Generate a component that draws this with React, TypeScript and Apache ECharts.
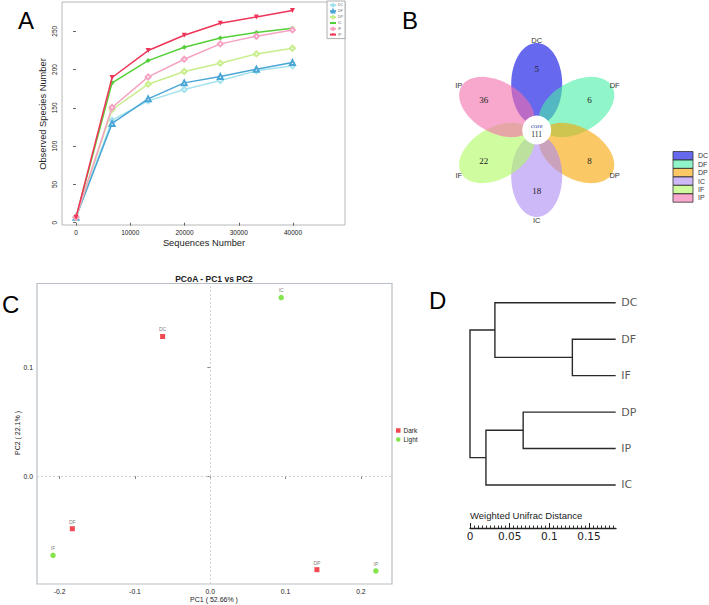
import React, { useEffect, useRef } from 'react';
import * as echarts from 'echarts';

// ---------- Panel A: rarefaction curves ----------
const SEQ_DEPTH = [0, 6650, 13300, 19950, 26600, 33250, 39900];
const RARE_NAMES = ['DC', 'DF', 'DP', 'IC', 'IF', 'IP'];
const RARE_DC = [7, 133.9, 159.1, 173.9, 185.7, 198.3, 204.8];
const RARE_DF = [7, 129.6, 161.7, 182.6, 190.9, 200.4, 209.1];
const RARE_DP = [7, 147.8, 180.9, 197.4, 208.3, 220.4, 227.8];
const RARE_IC = [7, 182.6, 211.7, 229.1, 241.3, 248.3, 253.9];
const RARE_IF = [7, 150.4, 190.4, 213.5, 233.5, 243.5, 251.7];
const RARE_IP = [7, 189.6, 224.8, 244.8, 260.4, 268.7, 277];
const RARE_X_TICKS = [0, 10000, 20000, 30000, 40000];
const RARE_Y_TICKS = [0, 50, 100, 150, 200, 250];

// ---------- Panel B: flower Venn ----------
const VENN_SETS = ['DC', 'DF', 'DP', 'IC', 'IF', 'IP'];
const VENN_UNIQUE = [5, 6, 8, 18, 22, 36];
const VENN_CORE = 111;

// ---------- Panel C: PCoA ----------
const PCOA_NAMES = ['DC', 'DF', 'DP', 'IC', 'IF', 'IP'];
const PCOA_PC1 = [-0.0633, -0.1832, 0.1416, 0.0942, -0.2088, 0.2199];
const PCOA_PC2 = [0.1285, -0.0485, -0.0862, 0.1644, -0.073, -0.0874];
const PCOA_GROUP = ['Dark', 'Dark', 'Dark', 'Light', 'Light', 'Light'];
const PCOA_GROUPS = ['Dark', 'Light'];
const PCOA_X_TICKS = [-0.2, -0.1, 0, 0.1, 0.2];
const PCOA_Y_TICKS = [0, 0.1];

// ---------- Panel D: UPGMA tree ----------
const TREE_LEAVES = ['DC', 'DF', 'IF', 'DP', 'IP', 'IC'];
const TREE_DEPTH = 0.1836;
const TREE_MERGES: [string, string, number][] = [
  ['DF', 'IF', 0.129],
  ['DC', 'm0', 0.0314],
  ['DP', 'IP', 0.067],
  ['m2', 'IC', 0.0201],
  ['m1', 'm3', 0],
];
const TREE_MAJOR_TICKS = [0, 0.05, 0.1, 0.15];
const TREE_MINOR_TICKS = [
  0, 0.005, 0.01, 0.015, 0.02, 0.025, 0.03, 0.035, 0.04, 0.045, 0.05, 0.055, 0.06, 0.065, 0.07, 0.075,
  0.08, 0.085, 0.09, 0.095, 0.1, 0.105, 0.11, 0.115, 0.12, 0.125, 0.13, 0.135, 0.14, 0.145, 0.15,
  0.155, 0.16, 0.165, 0.17, 0.175, 0.18,
];

// ---------- styles ----------
const RARE_COLORS = ['#a4e2ee', '#4aa6d6', '#c8ee8c', '#55cf38', '#f6a2c3', '#ee3457'];
const RARE_SYMBOLS = ['emptyDiamond', 'emptyTriangle', 'emptyDiamond', 'diamond', 'emptyDiamond', 'triangle'];
const VENN_COLORS: [number, number, number][] = [
  [0, 3, 227],
  [70, 238, 163],
  [248, 163, 0],
  [172, 137, 243],
  [177, 250, 97],
  [243, 110, 170],
];
const PETAL_ANGLES = [90, 30, -30, -90, 210, 150];
const GROUP_COLORS = ['#ee1c25', '#66dd22'];
const GROUP_SYMBOLS = ['rect', 'circle'];

const SANS = 'Liberation Sans';

function txt(x: number, y: number, text: string, o: any = {}) {
  return {
    type: 'text',
    x,
    y,
    rotation: o.rot || 0,
    z: o.z || 50,
    silent: true,
    style: {
      text,
      fill: o.fill || '#222',
      fontSize: o.size || 10,
      fontFamily: o.family || SANS,
      fontWeight: o.weight || 'normal',
      textAlign: o.align || 'center',
      textVerticalAlign: o.valign || 'middle',
      align: o.align || 'center',
      verticalAlign: o.valign || 'middle',
    },
  };
}

function rgba(c: [number, number, number], a: number) {
  return `rgba(${c[0]},${c[1]},${c[2]},${a})`;
}

function buildOption() {
  const graphics: any[] = [];

  // panel letters
  graphics.push(txt(18, 20.5, 'A', { size: 24, align: 'left', fill: '#000' }));
  graphics.push(txt(402, 20.5, 'B', { size: 24, align: 'left', fill: '#000' }));
  graphics.push(txt(2, 304, 'C', { size: 24, align: 'left', fill: '#000' }));
  graphics.push(txt(429, 300, 'D', { size: 24, align: 'left', fill: '#000' }));

  // Panel A axis names
  graphics.push(txt(43, 114, 'Observed Species Number', { size: 9.3, rot: Math.PI / 2 }));
  graphics.push(txt(204, 243, 'Sequences Number', { size: 9.3 }));

  // Panel B flower
  const BX = 536.7;
  const BY = 130;
  const PD = 46;
  const PA = 41;
  const PB = 25.5;
  VENN_SETS.forEach((name, i) => {
    const th = (PETAL_ANGLES[i] * Math.PI) / 180;
    const ux = Math.cos(th);
    const uy = -Math.sin(th);
    const vx = -uy;
    const vy = ux;
    const ex = BX + PD * ux;
    const ey = BY + PD * uy;
    const pts: number[][] = [];
    for (let k = 0; k < 90; k++) {
      const t = (k / 90) * Math.PI * 2;
      const lx = PA * Math.cos(t);
      const ly = PB * Math.sin(t);
      pts.push([ex + lx * ux + ly * vx, ey + lx * uy + ly * vy]);
    }
    graphics.push({
      type: 'polygon',
      z: 10 + i,
      silent: true,
      shape: { points: pts },
      style: { fill: rgba(VENN_COLORS[i], 0.6), stroke: 'none' },
    });
    graphics.push(
      txt(BX + 61 * ux, BY + 61 * uy, String(VENN_UNIQUE[i]), {
        size: 9,
        family: 'Liberation Serif',
        fill: '#222',
        z: 40,
      })
    );
    graphics.push(txt(BX + 90 * ux, BY + 90 * uy, name, { size: 7.5, fill: '#333', z: 40 }));
    // legend
    graphics.push({
      type: 'rect',
      z: 20,
      silent: true,
      shape: { x: 673, y: 151.5 + i * 8.45, width: 20, height: 8.45 },
      style: { fill: rgba(VENN_COLORS[i], 0.6), stroke: '#333', lineWidth: 0.8 },
    });
    graphics.push(txt(698, 151.5 + i * 8.45 + 4.2, name, { size: 7, align: 'left', fill: '#333' }));
  });
  graphics.push({
    type: 'circle',
    z: 30,
    silent: true,
    shape: { cx: BX, cy: BY, r: 14.5 },
    style: { fill: '#ffffff', stroke: 'none' },
  });
  graphics.push(txt(BX, 126, 'core', { size: 7, fill: '#3b4aa3', z: 41, family: 'Liberation Serif' }));
  graphics.push(txt(BX, 134.2, String(VENN_CORE), { size: 7.5, fill: '#222', z: 41, family: 'Liberation Serif' }));

  // Panel C texts
  graphics.push(txt(214, 279, 'PCoA - PC1 vs PC2', { size: 8.5, weight: 'bold' }));
  graphics.push(txt(214, 599, 'PC1 ( 52.66% )', { size: 7 }));
  graphics.push(txt(17.5, 433, 'PC2 ( 22.1% )', { size: 7, rot: Math.PI / 2 }));

  // Panel D scale title
  graphics.push(txt(470, 515.7, 'Weighted Unifrac Distance', { size: 9.5, align: 'left', fill: '#222' }));

  // ---------- series ----------
  const rareVals = [RARE_DC, RARE_DF, RARE_DP, RARE_IC, RARE_IF, RARE_IP];
  const series: any[] = rareVals.map((vals, i) => ({
    type: 'line',
    name: RARE_NAMES[i],
    xAxisIndex: 0,
    yAxisIndex: 0,
    data: SEQ_DEPTH.map((x, j) => [x, vals[j]]),
    symbol: RARE_SYMBOLS[i],
    symbolRotate: i === 5 ? 180 : 0,
    symbolSize: 5,
    showAllSymbol: true,
    clip: false,
    lineStyle: { width: 1.5, color: RARE_COLORS[i] },
    itemStyle: { color: RARE_COLORS[i], borderWidth: 1 },
    z: 2 + i,
  }));

  PCOA_GROUPS.forEach((g, gi) => {
    const data: any[] = [];
    PCOA_NAMES.forEach((n, i) => {
      if (PCOA_GROUP[i] === g) data.push({ name: n, value: [PCOA_PC1[i], PCOA_PC2[i]] });
    });
    series.push({
      type: 'scatter',
      name: g,
      xAxisIndex: 1,
      yAxisIndex: 1,
      data,
      symbol: GROUP_SYMBOLS[gi],
      symbolSize: gi === 0 ? 5 : 5.5,
      itemStyle: { color: GROUP_COLORS[gi] },
      clip: false,
      label: {
        show: true,
        position: 'top',
        distance: 2,
        formatter: '{b}',
        fontSize: 5,
        color: '#555',
        fontFamily: SANS,
      },
      markLine:
        gi === 0
          ? {
              silent: true,
              symbol: ['none', 'none'],
              label: { show: false },
              lineStyle: { type: [2, 2], color: '#c8c8c8', width: 0.8 },
              data: [{ xAxis: 0 }, { yAxis: 0 }],
            }
          : undefined,
      z: 5,
    });
  });

  // tree
  const pos: Record<string, [number, number]> = {};
  TREE_LEAVES.forEach((l, i) => {
    pos[l] = [TREE_DEPTH, i];
  });
  const treeLines: any[] = [];
  TREE_MERGES.forEach(([a, b, h], i) => {
    const pa = pos[a];
    const pb = pos[b];
    treeLines.push({
      coords: [
        [pa[0], pa[1]],
        [h, pa[1]],
        [h, pb[1]],
        [pb[0], pb[1]],
      ],
    });
    pos['m' + i] = [h, (pa[1] + pb[1]) / 2];
  });
  series.push({
    type: 'lines',
    coordinateSystem: 'cartesian2d',
    xAxisIndex: 2,
    yAxisIndex: 2,
    polyline: true,
    silent: true,
    data: treeLines,
    lineStyle: { color: '#2a2a2a', width: 1.4, opacity: 1 },
  });
  series.push({
    type: 'scatter',
    xAxisIndex: 2,
    yAxisIndex: 2,
    symbolSize: 1,
    itemStyle: { color: 'rgba(0,0,0,0)' },
    silent: true,
    data: TREE_LEAVES.map((l, i) => ({ name: l, value: [TREE_DEPTH, i] })),
    label: {
      show: true,
      position: 'right',
      distance: 5,
      formatter: '{b}',
      fontSize: 11,
      fontFamily: 'DejaVu Sans',
      color: '#2a2a2a',
    },
  });

  const plain = { show: false };

  return {
    animation: false,
    backgroundColor: '#ffffff',
    textStyle: { fontFamily: SANS },
    grid: [
      { left: 62, top: 2, width: 283, height: 223, show: true, borderColor: '#b8b8b8', borderWidth: 1, backgroundColor: 'transparent', outerBoundsMode: 'none' },
      { left: 37, top: 283.5, width: 355, height: 300.5, show: true, borderColor: '#b7bec6', borderWidth: 1.2, backgroundColor: 'transparent', outerBoundsMode: 'none' },
      { left: 470, top: 284.5, width: 146, height: 243.5, show: false, outerBoundsMode: 'none' },
      { left: 470, top: 284.5, width: 146, height: 243.5, show: false, outerBoundsMode: 'none' },
    ],
    legend: [
      {
        data: RARE_NAMES,
        left: 327,
        top: 1,
        orient: 'vertical',
        itemWidth: 6,
        itemHeight: 3,
        itemGap: 1.6,
        padding: [2, 2, 2, 2],
        borderColor: '#999',
        borderWidth: 0.8,
        backgroundColor: '#fff',
        textStyle: { fontSize: 3.5, color: '#666', fontFamily: SANS, padding: [0, 0, 0, -3] },
      },
      {
        data: PCOA_GROUPS,
        left: 396,
        top: 427,
        orient: 'vertical',
        itemWidth: 4.5,
        itemHeight: 4.5,
        itemGap: 2,
        padding: 0,
        textStyle: { fontSize: 6.5, color: '#222', fontFamily: SANS, padding: [0, 0, 0, -2] },
      },
    ],
    xAxis: [
      {
        type: 'value',
        gridIndex: 0,
        min: -2581,
        max: 49585,
        axisLine: plain,
        splitLine: plain,
        axisTick: { show: true, customValues: RARE_X_TICKS, length: 3, lineStyle: { color: '#666' } },
        axisLabel: {
          customValues: RARE_X_TICKS,
          fontSize: 6.5,
          color: '#222',
          margin: 4,
          fontFamily: SANS,
          formatter: (v: number) => String(v),
        },
      },
      {
        type: 'value',
        gridIndex: 1,
        min: -0.2301,
        max: 0.2413,
        axisLine: plain,
        splitLine: plain,
        axisTick: { show: true, customValues: PCOA_X_TICKS, length: 3, lineStyle: { color: '#888' } },
        axisLabel: {
          customValues: PCOA_X_TICKS,
          fontSize: 6.8,
          color: '#222',
          margin: 4,
          fontFamily: SANS,
          formatter: (v: number) => v.toFixed(1),
        },
      },
      {
        type: 'value',
        gridIndex: 2,
        position: 'bottom',
        min: 0,
        max: 0.184,
        axisLine: { show: true, onZero: false, lineStyle: { color: '#222', width: 1.3 } },
        splitLine: plain,
        axisTick: { show: true, inside: true, length: 5, customValues: TREE_MAJOR_TICKS, lineStyle: { color: '#222', width: 1 } },
        axisLabel: {
          customValues: TREE_MAJOR_TICKS,
          fontSize: 10.5,
          color: '#222',
          margin: 2,
          fontFamily: 'DejaVu Sans',
          formatter: (v: number) => (v === 0 ? '0' : String(v)),
        },
      },
      {
        type: 'value',
        gridIndex: 3,
        position: 'bottom',
        min: 0,
        max: 0.184,
        axisLine: { show: false, onZero: false },
        splitLine: plain,
        axisTick: { show: true, inside: true, length: 2.5, customValues: TREE_MINOR_TICKS, lineStyle: { color: '#222', width: 0.9 } },
        axisLabel: { show: false },
      },
    ],
    yAxis: [
      {
        type: 'value',
        gridIndex: 0,
        min: -3,
        max: 288.2,
        axisLine: plain,
        splitLine: plain,
        axisTick: { show: true, customValues: RARE_Y_TICKS, length: 3, lineStyle: { color: '#666' } },
        axisLabel: { customValues: RARE_Y_TICKS, fontSize: 6.5, color: '#222', margin: 4, rotate: 90, fontFamily: SANS },
      },
      {
        type: 'value',
        gridIndex: 1,
        min: -0.0994,
        max: 0.1773,
        axisLine: plain,
        splitLine: plain,
        axisTick: { show: true, customValues: PCOA_Y_TICKS, length: 3, lineStyle: { color: '#888' } },
        axisLabel: {
          customValues: PCOA_Y_TICKS,
          fontSize: 6.8,
          color: '#222',
          margin: 4,
          fontFamily: SANS,
          formatter: (v: number) => v.toFixed(1),
        },
      },
      {
        type: 'value',
        gridIndex: 2,
        min: -0.5,
        max: 6.18,
        inverse: true,
        show: false,
      },
      {
        type: 'value',
        gridIndex: 3,
        min: -0.5,
        max: 6.18,
        inverse: true,
        show: false,
      },
    ],
    graphic: graphics,
    series,
  };
}

export default function App() {
  const ref = useRef<HTMLDivElement>(null);
  useEffect(() => {
    const chart = echarts.init(ref.current!, null, { renderer: 'svg' });
    chart.setOption(buildOption() as any);
    return () => chart.dispose();
  }, []);
  return (
    <div
      ref={ref}
      style={{ position: 'fixed', left: 0, top: 0, width: 709, height: 605, background: '#fff' }}
    />
  );
}
